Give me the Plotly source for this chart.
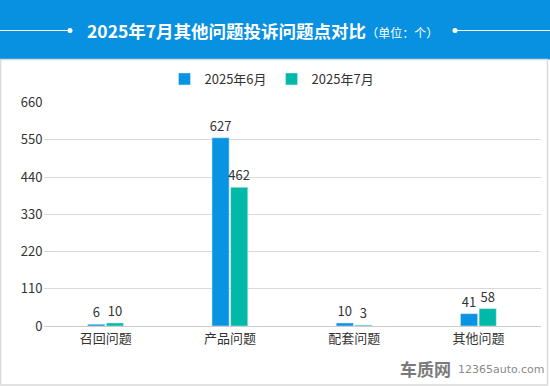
import plotly.graph_objects as go

categories = ["召回问题", "产品问题", "配套问题", "其他问题"]
june_values = [6, 627, 10, 41]
july_values = [10, 462, 3, 58]
series_names = ["2025年6月", "2025年7月"]
tick_labels = ["0", "110", "220", "330", "440", "550", "660"]

W, H = 550, 386
FONT = "Noto Sans CJK SC, Microsoft YaHei, sans-serif"
BLUE = "#0893e3"
TEAL = "#00b9a8"

# the reference's drawn scale: each 110-labelled gridline step corresponds to ~124 units
STEP = 124
tick_vals = [i * STEP for i in range(len(tick_labels))]

def fx(px):
    return px / W

def fy(py):
    return 1 - py / H

fig = go.Figure()
fig.add_trace(go.Bar(
    x=categories, y=june_values, name=series_names[0], marker_color=BLUE,
    text=[str(v) for v in june_values], textposition="outside", cliponaxis=False,
    constraintext="none",
    textfont=dict(size=13, color="#333333", family=FONT),
))
fig.add_trace(go.Bar(
    x=categories, y=july_values, name=series_names[1], marker_color=TEAL,
    text=[str(v) for v in july_values], textposition="outside", cliponaxis=False,
    constraintext="none",
    textfont=dict(size=13, color="#333333", family=FONT),
))

shapes = [
    dict(type="rect", xref="paper", yref="paper", x0=0, x1=1, y0=fy(59.5), y1=1,
         fillcolor="#0890e1", line=dict(width=0), layer="below"),
    dict(type="rect", xref="paper", yref="paper", x0=fx(0.5), x1=fx(547.5), y0=fy(385), y1=fy(59.5),
         fillcolor="rgba(0,0,0,0)", line=dict(color="#d9d9d9", width=1.5), layer="below"),
    dict(type="line", xref="paper", yref="paper", x0=0, x1=fx(70), y0=fy(30.5), y1=fy(30.5),
         line=dict(color="white", width=1.2)),
    dict(type="line", xref="paper", yref="paper", x0=fx(455), x1=1, y0=fy(30.5), y1=fy(30.5),
         line=dict(color="white", width=1.2)),
    dict(type="circle", xref="paper", yref="paper", x0=fx(67.5), x1=fx(72.5), y0=fy(33), y1=fy(28),
         fillcolor="white", line=dict(width=0)),
    dict(type="circle", xref="paper", yref="paper", x0=fx(452.5), x1=fx(457.5), y0=fy(33), y1=fy(28),
         fillcolor="white", line=dict(width=0)),
]

annotations = [
    dict(xref="paper", yref="paper", x=fx(262), y=fy(30.5), xanchor="center", yanchor="middle",
         showarrow=False,
         text="<b>2025年7月其他问题投诉问题点对比</b><span style='font-size:12px'>（单位：个）</span>",
         font=dict(size=17.5, color="white", family=FONT)),
    dict(xref="paper", yref="paper", x=fx(453), y=fy(368), xanchor="right", yanchor="middle",
         showarrow=False, text="<b>车质网</b>",
         font=dict(size=17, color="#7a7a7a", family=FONT)),
    dict(xref="paper", yref="paper", x=fx(456), y=fy(369.5), xanchor="left", yanchor="middle",
         showarrow=False, text="12365auto.com",
         font=dict(size=11, color="#8a8a8a", family="DejaVu Sans, sans-serif")),
]

fig.update_layout(
    width=W, height=H,
    margin=dict(l=0, r=0, t=0, b=0, pad=0, autoexpand=False),
    paper_bgcolor="white", plot_bgcolor="white",
    font=dict(family=FONT, size=13, color="#333333"),
    barmode="group", bargap=0.70, bargroupgap=0.08,
    showlegend=True,
    legend=dict(orientation="h", x=fx(272), xanchor="center", y=fy(79), yanchor="middle",
                font=dict(size=13, color="#333333", family=FONT),
                itemwidth=30, traceorder="normal", bgcolor="rgba(0,0,0,0)"),
    xaxis=dict(domain=[fx(43.5), fx(540.5)], showgrid=False, showline=True,
               linecolor="#cccccc", linewidth=1, ticks="", automargin=False,
               tickfont=dict(size=13, color="#333333", family=FONT)),
    yaxis=dict(domain=[fy(326), fy(102.7)], range=[0, tick_vals[-1]],
               tickvals=tick_vals, ticktext=tick_labels, automargin=False,
               showgrid=True, gridcolor="#d9d9d9", gridwidth=1,
               zeroline=False, showline=False, ticks="",
               tickfont=dict(size=13, color="#333333", family=FONT)),
    shapes=shapes, annotations=annotations,
)

fig.write_html(
    "out.html",
    config={"displayModeBar": False},
    post_script="document.body.style.margin='0';document.body.style.padding='0';document.body.style.overflow='hidden';",
)
